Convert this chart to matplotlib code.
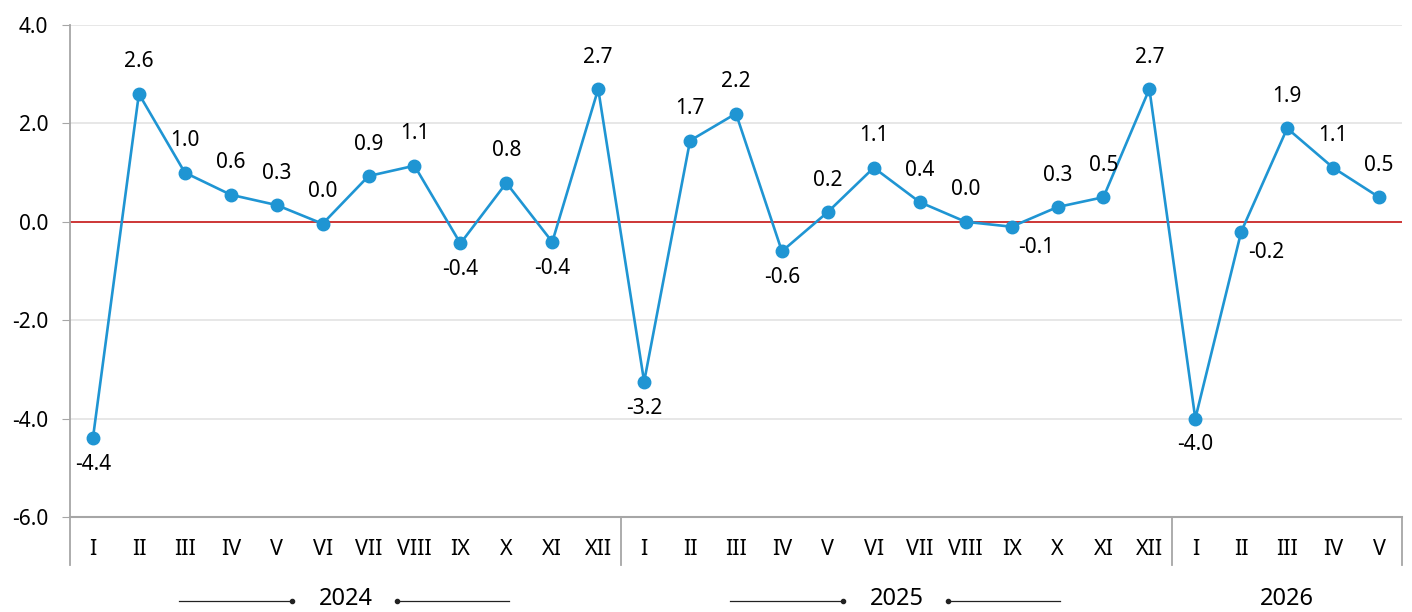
import numpy as np
import matplotlib
matplotlib.use("Agg")
import matplotlib.pyplot as plt
import matplotlib.transforms as mtransforms

plt.rcParams['font.family'] = ['Noto Sans', 'DejaVu Sans']

months_2024 = ['I', 'II', 'III', 'IV', 'V', 'VI', 'VII', 'VIII', 'IX', 'X', 'XI', 'XII']
months_2025 = ['I', 'II', 'III', 'IV', 'V', 'VI', 'VII', 'VIII', 'IX', 'X', 'XI', 'XII']
months_2026 = ['I', 'II', 'III', 'IV', 'V']
years = ['2024', '2025', '2026']

values_2024 = [-4.39, 2.60, 1.00, 0.55, 0.34, -0.04, 0.93, 1.14, -0.44, 0.79, -0.41, 2.70]
values_2025 = [-3.25, 1.65, 2.20, -0.60, 0.20, 1.10, 0.40, 0.00, -0.10, 0.30, 0.50, 2.70]
values_2026 = [-4.00, -0.20, 1.90, 1.10, 0.50]

labels_2024 = ['-4.4', '2.6', '1.0', '0.6', '0.3', '0.0', '0.9', '1.1', '-0.4', '0.8', '-0.4', '2.7']
labels_2025 = ['-3.2', '1.7', '2.2', '-0.6', '0.2', '1.1', '0.4', '0.0', '-0.1', '0.3', '0.5', '2.7']
labels_2026 = ['-4.0', '-0.2', '1.9', '1.1', '0.5']

months = months_2024 + months_2025 + months_2026
values = values_2024 + values_2025 + values_2026
labels = labels_2024 + labels_2025 + labels_2026
group_sizes = [len(months_2024), len(months_2025), len(months_2026)]

# label placement: below the point, below-right, otherwise above
below = {0, 8, 10, 12, 15, 24}
below_right = {20, 25}

blue = '#1f95d3'
x = np.arange(len(values))

fig = plt.figure(figsize=(14.12, 6.12), dpi=100)
ax = fig.add_axes([70 / 1412, 95 / 612, 1332 / 1412, 492 / 612])

ax.set_xlim(-0.5, len(values) - 0.5)
ax.set_ylim(-6, 4)
ax.set_yticks([-6, -4, -2, 0, 2, 4])
ax.set_yticklabels([f'{t:.1f}' for t in [-6, -4, -2, 0, 2, 4]], fontsize=15)
ax.tick_params(axis='y', length=5.8, color='#a6a6a6', pad=10)
for t in [-4, -2, 2, 4]:
    ax.axhline(t, color='#e3e3e3', lw=1.2, zorder=0)
ax.axhline(0, color='#c00000', lw=1.1, zorder=1)
ax.axhline(-6, color='#a6a6a6', lw=1.5, zorder=1, clip_on=False)

for s in ['top', 'right', 'bottom', 'left']:
    ax.spines[s].set_visible(False)

ax.set_xticks(x)
ax.set_xticklabels(months, fontsize=15.5)
ax.tick_params(axis='x', length=0, pad=16)

# group separators
trans = mtransforms.blended_transform_factory(ax.transData, ax.transAxes)
bounds = np.concatenate([[0], np.cumsum(group_sizes)]) - 0.5
for b in bounds:
    ax.plot([b, b], [-0.098, 1.0 if b == bounds[0] else 0], transform=trans,
            color='#a6a6a6', lw=1.3, clip_on=False)

# year labels
for i, yr in enumerate(years):
    c = (bounds[i] + bounds[i + 1]) / 2
    ax.text(c, -0.166, yr, transform=trans, ha='center', va='center', fontsize=17)
    if group_sizes[i] >= 12:
        ax.plot([c - 3.62, c - 1.17], [-0.17, -0.17], transform=trans, color='#222222',
                lw=0.9, clip_on=False)
        ax.plot([c + 1.12, c + 3.55], [-0.17, -0.17], transform=trans, color='#222222',
                lw=0.9, clip_on=False)
        ax.plot([c - 1.17, c + 1.12], [-0.17, -0.17], transform=trans, ls='none',
                marker='o', ms=3, color='#222222', clip_on=False)

ax.plot(x, values, color=blue, lw=1.9, marker='o', ms=9, zorder=3)

for i, (v, lab) in enumerate(zip(values, labels)):
    if i in below:
        off = (0, -19)
    elif i in below_right:
        off = (18, -15)
    else:
        off = (0, 23)
    ax.annotate(lab, (x[i], v), xytext=off, textcoords='offset points',
                ha='center', va='center', fontsize=15)

fig.savefig('out.png', dpi=100)
